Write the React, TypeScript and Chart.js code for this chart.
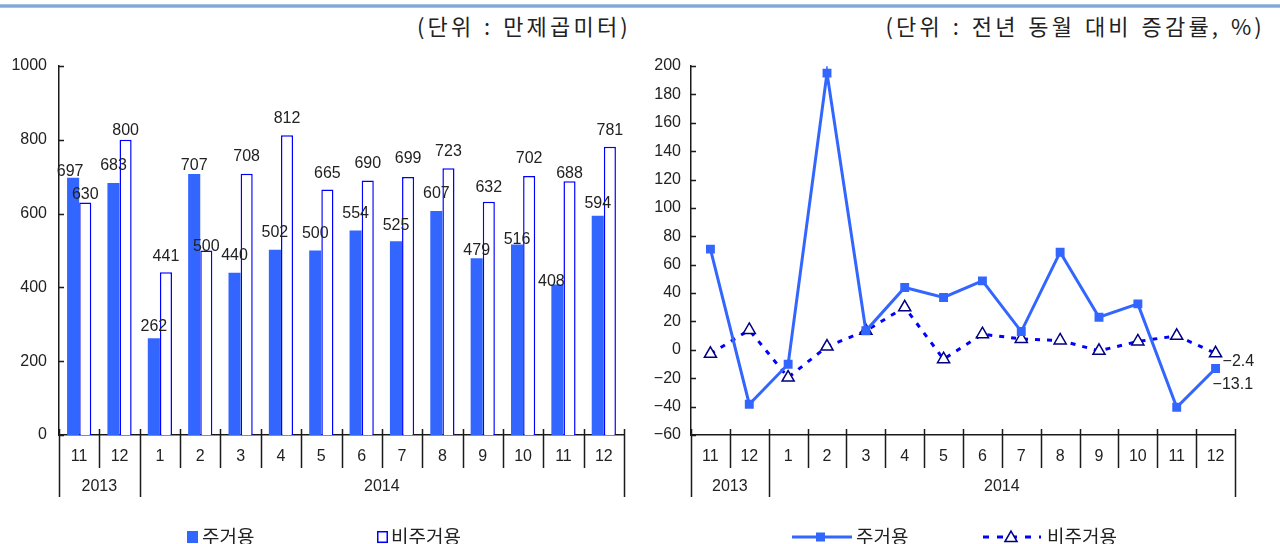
import React, { useEffect, useRef } from 'react';
import { Chart, registerables } from 'chart.js';

Chart.register(...registerables);

// ---------- data ----------
const monthLabels = ['11', '12', '1', '2', '3', '4', '5', '6', '7', '8', '9', '10', '11', '12'];
const yearLabels = ['2013', '2013', '2014', '2014', '2014', '2014', '2014', '2014', '2014', '2014', '2014', '2014', '2014', '2014'];
const seriesNames = ['주거용', '비주거용'];

const residentialArea = [697, 683, 262, 707, 440, 502, 500, 554, 525, 607, 479, 516, 408, 594];
const nonResidentialArea = [630, 800, 441, 500, 708, 812, 665, 690, 699, 723, 632, 702, 688, 781];

const residentialChange = [71, -38.3, -10.1, 195, 13.4, 43.9, 36.9, 48.6, 12.9, 68.8, 23, 32.4, -40.5, -13.1];
const nonResidentialChange = [-2.8, 14, -19.5, 2.3, 13.4, 30, -6.6, 11, 7.7, 6.6, -0.7, 5.9, 9.9, -2.4];

const areaTicks = { min: 0, max: 1000, step: 200 };
const changeTicks = { min: -60, max: 200, step: 20 };

const areaUnit = '(단위 : 만제곱미터)';
const changeUnit = '(단위 : 전년 동월 대비 증감률, %)';

// label placement tweaks (styling only)
const residentialLabelLift = [6, 17, 12, 9, 17, 17, 17, 17, 16, 17, 8, 5, 3, 12];
const residentialLabelShift = [-3, 0, 0, 0, 0, 0, 0, 0, 0, 0, 0, 0, -6, 0];
const nonResidentialLabelLift = [8, 9, 16, 4, 17, 17, 16, 17, 18, 17, 14, 17, 8, 16];

// ---------- styles ----------
const BLUE = '#3366FF';
const PURE_BLUE = '#0000FF';
const NAVY = '#000080';
const AXIS = '#1a1a1a';
const TEXT = '#222222';
const FONT_NUM = "'Liberation Sans', Arial, sans-serif";
const FONT_KR = "'Noto Sans CJK KR', 'Noto Sans', sans-serif";

const fmt = (v: number) => (v < 0 ? '\u2212' + Math.abs(v) : String(v));
const catLabels = monthLabels.map((m, i) => `${yearLabels[i]}.${m}`);

function drawCategoryAxis(chart: any) {
  const { ctx, chartArea: ca, scales } = chart;
  const x = scales.x;
  const y = scales.y;
  ctx.save();
  ctx.strokeStyle = AXIS;
  ctx.lineWidth = 1.5;
  ctx.beginPath();
  y.ticks.forEach((t: any) => {
    const py = Math.round(y.getPixelForValue(t.value)) + 0.5;
    ctx.moveTo(ca.left, py);
    ctx.lineTo(ca.left + 5, py);
  });
  const n = monthLabels.length;
  const edges: number[] = [];
  for (let i = 0; i <= n; i++) {
    if (i === 0) edges.push(ca.left);
    else if (i === n) edges.push(ca.right);
    else edges.push((x.getPixelForValue(i - 1) + x.getPixelForValue(i)) / 2);
  }
  edges.forEach((ex, i) => {
    const yearEdge = i === 0 || i === n || yearLabels[i] !== yearLabels[i - 1];
    const px = Math.round(ex) + 0.5;
    ctx.moveTo(px, ca.bottom - 6);
    ctx.lineTo(px, ca.bottom + (yearEdge ? 62 : 33));
  });
  ctx.stroke();

  ctx.fillStyle = TEXT;
  ctx.font = `16px ${FONT_NUM}`;
  ctx.textAlign = 'center';
  ctx.textBaseline = 'middle';
  monthLabels.forEach((m, i) => ctx.fillText(m, x.getPixelForValue(i), ca.bottom + 22));
  let start = 0;
  for (let i = 1; i <= n; i++) {
    if (i === n || yearLabels[i] !== yearLabels[start]) {
      ctx.fillText(yearLabels[start], (edges[start] + edges[i]) / 2, ca.bottom + 52);
      start = i;
    }
  }
  ctx.restore();
}

const areaDecor = {
  id: 'areaDecor',
  afterDraw(chart: any) {
    drawCategoryAxis(chart);
    const ctx = chart.ctx;
    ctx.save();
    ctx.font = `16px ${FONT_NUM}`;
    ctx.fillStyle = TEXT;
    ctx.textAlign = 'center';
    ctx.textBaseline = 'middle';
    const specs: [number[], number[], number[] | null][] = [
      [residentialArea, residentialLabelLift, residentialLabelShift],
      [nonResidentialArea, nonResidentialLabelLift, null],
    ];
    specs.forEach(([vals, lift, shift], di) => {
      chart.getDatasetMeta(di).data.forEach((el: any, i: number) => {
        ctx.fillText(String(vals[i]), el.x + (shift ? shift[i] : 0), el.y - lift[i]);
      });
    });
    // legend
    const ly = 537;
    ctx.fillStyle = BLUE;
    ctx.fillRect(187, ly - 6, 11, 12);
    ctx.fillStyle = '#fff';
    ctx.strokeStyle = PURE_BLUE;
    ctx.lineWidth = 1.5;
    ctx.fillRect(377, ly - 6, 10, 12);
    ctx.strokeRect(377.75, ly - 5.25, 9.5, 10.5);
    ctx.fillStyle = TEXT;
    ctx.font = `19px ${FONT_KR}`;
    ctx.textAlign = 'left';
    ctx.fillText(seriesNames[0], 202, ly);
    ctx.fillText(seriesNames[1], 391, ly);
    ctx.restore();
  },
};

function drawTriangle(ctx: CanvasRenderingContext2D, x: number, y: number, r: number) {
  ctx.beginPath();
  ctx.moveTo(x, y - r);
  ctx.lineTo(x + r * 0.866, y + r / 2);
  ctx.lineTo(x - r * 0.866, y + r / 2);
  ctx.closePath();
  ctx.fill();
  ctx.stroke();
}

const changeDecor = {
  id: 'changeDecor',
  afterDraw(chart: any) {
    drawCategoryAxis(chart);
    const ctx = chart.ctx;
    ctx.save();
    ctx.font = `16px ${FONT_NUM}`;
    ctx.fillStyle = TEXT;
    ctx.textBaseline = 'middle';
    ctx.textAlign = 'left';
    const last = monthLabels.length - 1;
    const pNon = chart.getDatasetMeta(1).data[last];
    const pRes = chart.getDatasetMeta(0).data[last];
    ctx.fillText(fmt(nonResidentialChange[last]), pNon.x + 7, pNon.y + 8);
    ctx.fillText(fmt(residentialChange[last]), pRes.x - 3, pRes.y + 16);

    // legend
    const ly = 537;
    ctx.strokeStyle = BLUE;
    ctx.lineWidth = 3;
    ctx.beginPath();
    ctx.moveTo(152, ly);
    ctx.lineTo(212, ly);
    ctx.stroke();
    ctx.fillStyle = BLUE;
    ctx.fillRect(176, ly - 4.5, 9, 9);

    ctx.strokeStyle = PURE_BLUE;
    ctx.setLineDash([6, 8]);
    ctx.beginPath();
    ctx.moveTo(343, ly);
    ctx.lineTo(401, ly);
    ctx.stroke();
    ctx.setLineDash([]);
    ctx.fillStyle = '#fff';
    ctx.strokeStyle = NAVY;
    ctx.lineWidth = 1.5;
    drawTriangle(ctx, 371, ly + 1, 7);

    ctx.fillStyle = TEXT;
    ctx.font = `19px ${FONT_KR}`;
    ctx.fillText(seriesNames[0], 216, ly);
    ctx.fillText(seriesNames[1], 407, ly);
    ctx.restore();
  },
};

const tickFont = { family: FONT_NUM, size: 16 };

function AreaChart() {
  const ref = useRef<HTMLCanvasElement>(null);
  useEffect(() => {
    const chart = new Chart(ref.current as HTMLCanvasElement, {
      type: 'bar',
      data: {
        labels: catLabels,
        datasets: [
          {
            label: seriesNames[0],
            data: residentialArea,
            backgroundColor: BLUE,
            borderWidth: 0,
          },
          {
            label: seriesNames[1],
            data: nonResidentialArea,
            backgroundColor: '#ffffff',
            borderColor: PURE_BLUE,
            borderWidth: 1.5,
          },
        ],
      },
      options: {
        animation: false,
        responsive: false,
        devicePixelRatio: 1,
        datasets: { bar: { categoryPercentage: 0.6, barPercentage: 1 } },
        layout: { padding: { top: 66, right: 16, left: 0, bottom: 0 } },
        plugins: { legend: { display: false }, tooltip: { enabled: false }, title: { display: false } },
        scales: {
          x: {
            grid: { display: false, drawTicks: false },
            ticks: { display: false },
            border: { display: true, color: AXIS, width: 1.5 },
            afterFit: (s: any) => {
              s.height = 125;
            },
          },
          y: {
            min: areaTicks.min,
            max: areaTicks.max,
            grid: { display: false, drawTicks: false },
            border: { display: true, color: AXIS, width: 1.5 },
            ticks: {
              stepSize: areaTicks.step,
              color: TEXT,
              font: tickFont,
              padding: 12,
              callback: (v: any) => String(v),
            },
            afterFit: (s: any) => {
              s.width = 59;
            },
          },
        },
      },
      plugins: [areaDecor],
    } as any);
    return () => chart.destroy();
  }, []);
  return (
    <canvas
      ref={ref}
      width={640}
      height={560}
      style={{ position: 'absolute', left: 0, top: 0, width: 640, height: 560 }}
    />
  );
}

function ChangeChart() {
  const ref = useRef<HTMLCanvasElement>(null);
  useEffect(() => {
    const chart = new Chart(ref.current as HTMLCanvasElement, {
      type: 'line',
      data: {
        labels: catLabels,
        datasets: [
          {
            label: seriesNames[0],
            data: residentialChange,
            borderColor: BLUE,
            borderWidth: 3,
            backgroundColor: BLUE,
            pointStyle: 'rect',
            pointRadius: 6.3,
            pointBackgroundColor: BLUE,
            pointBorderColor: BLUE,
            pointBorderWidth: 0,
            tension: 0,
          },
          {
            label: seriesNames[1],
            data: nonResidentialChange,
            borderColor: PURE_BLUE,
            borderWidth: 3,
            borderDash: [5, 7],
            pointStyle: 'triangle',
            pointRadius: 7,
            pointBackgroundColor: '#ffffff',
            pointBorderColor: NAVY,
            pointBorderWidth: 1.5,
            tension: 0,
          },
        ],
      },
      options: {
        animation: false,
        responsive: false,
        devicePixelRatio: 1,
        layout: { padding: { top: 66, right: 45, left: 0, bottom: 0 } },
        plugins: { legend: { display: false }, tooltip: { enabled: false }, title: { display: false } },
        scales: {
          x: {
            offset: true,
            grid: { display: false, drawTicks: false, offset: true },
            ticks: { display: false },
            border: { display: true, color: AXIS, width: 1.5 },
            afterFit: (s: any) => {
              s.height = 125;
            },
          },
          y: {
            min: changeTicks.min,
            max: changeTicks.max,
            grid: { display: false, drawTicks: false },
            border: { display: true, color: AXIS, width: 1.5 },
            ticks: {
              stepSize: changeTicks.step,
              color: TEXT,
              font: tickFont,
              padding: 10,
              callback: (v: any) => fmt(Number(v)),
            },
            afterFit: (s: any) => {
              s.width = 51;
            },
          },
        },
      },
      plugins: [changeDecor],
    } as any);
    return () => chart.destroy();
  }, []);
  return (
    <canvas
      ref={ref}
      width={640}
      height={560}
      style={{ position: 'absolute', left: 0, top: 0, width: 640, height: 560 }}
    />
  );
}

const unitStyle: React.CSSProperties = {
  position: 'absolute',
  top: 10,
  fontFamily: FONT_KR,
  fontSize: 22,
  lineHeight: '30px',
  color: TEXT,
  whiteSpace: 'nowrap',
  letterSpacing: '3.2px',
  wordSpacing: '1.6px',
};

export default function App() {
  useEffect(() => {
    document.body.style.margin = '0';
  }, []);
  return (
    <div
      style={{
        position: 'fixed',
        left: 0,
        top: 0,
        width: 1280,
        height: 544,
        overflow: 'hidden',
        background: '#ffffff',
      }}
    >
      <div
        style={{
          position: 'absolute',
          left: 0,
          top: 4,
          width: 1280,
          height: 4,
          background: 'linear-gradient(#b7cdea, #6f9bd6, #b7cdea)',
        }}
      />
      <div style={{ ...unitStyle, right: 1280 - 631 }}>{areaUnit}</div>
      <div style={{ ...unitStyle, right: 1280 - 1265 }}>{changeUnit}</div>
      <div style={{ position: 'absolute', left: 0, top: 0, width: 640, height: 560 }}>
        <AreaChart />
      </div>
      <div style={{ position: 'absolute', left: 640, top: 0, width: 640, height: 560 }}>
        <ChangeChart />
      </div>
    </div>
  );
}
